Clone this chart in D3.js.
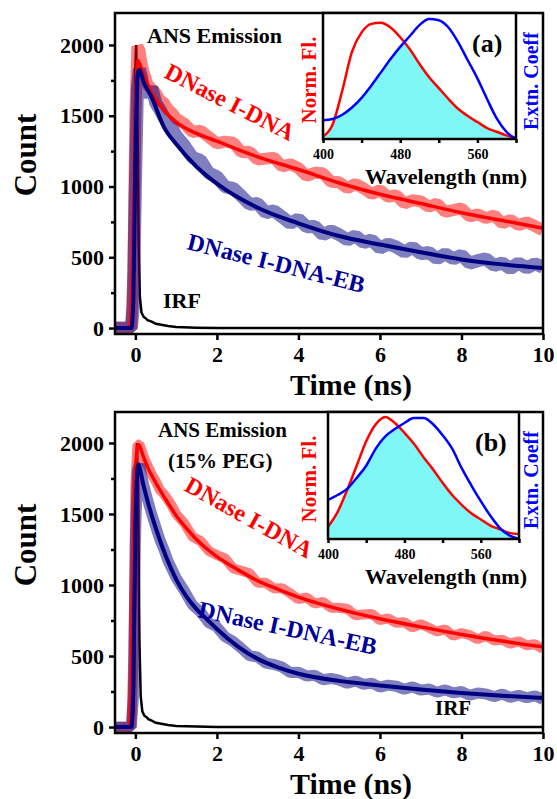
<!DOCTYPE html>
<meta charset="utf-8">
<style>
  body { margin: 0; background: #fff; }
  text { font-family: 'Liberation Serif', 'Times New Roman', Times, serif; font-weight: bold; }
</style>
<script src="https://d3js.org/d3.v7.min.js"></script>
<div id="my_dataviz"></div>
<script>

// ---- data ----
// time grid of the raw decays (ns)
var tEarly = [-0.5, -0.2, -0.1, -0.05, 0, 0.05, 0.1, 0.15, 0.2, 0.3, 0.4, 0.5, 0.6, 0.7, 0.8, 0.9, 1.0];
var tTail = d3.range(6, 51).map(function (i) { return i / 5; });   // 1.2 .. 10
var rawTime = tEarly.concat(tTail);

// panel (a) raw counts
var rawRedA = [0, 0, 0, 400, 1500, 1990, 1960, 1870, 1810, 1720, 1690, 1660, 1610, 1590, 1545, 1520, 1480,
  1445, 1385, 1395, 1350, 1305, 1317, 1310, 1243, 1246, 1190,
  1197, 1204, 1141, 1158, 1130, 1076, 1097, 1093, 1034, 1030,
  989, 1018, 987, 946, 975, 927, 939, 881, 903, 895,
  857, 879, 821, 833, 845, 789, 803, 777, 796, 740,
  764, 728, 747, 721, 690];
var rawBlueA = [0, 0, 0, 150, 1000, 1700, 1830, 1770, 1700, 1640, 1700, 1590, 1545, 1490, 1450, 1410, 1360,
  1290, 1205, 1185, 1095, 1070, 998, 987, 933, 875, 880,
  816, 828, 785, 740, 770, 716, 718, 660, 687, 660,
  623, 651, 604, 622, 565, 594, 573, 537, 571, 525,
  535, 490, 525, 490, 515, 458, 476, 489, 442, 460,
  420, 460, 425, 455, 430];

// panel (b) raw counts
var rawRedB = [0, 0, 0, 500, 1700, 1990, 1990, 1950, 1905, 1840, 1780, 1730, 1670, 1640, 1600, 1555, 1500,
  1435, 1340, 1310, 1240, 1210, 1188, 1117, 1100, 1082, 1015,
  1015, 976, 978, 941, 900, 912, 869, 881, 840, 840,
  831, 787, 793, 795, 752, 765, 734, 737, 701, 725,
  699, 673, 688, 642, 662, 647, 618, 643, 609, 615,
  587, 604, 576, 583, 550];
var rawBlueB = [0, 0, 0, 200, 1300, 1800, 1850, 1780, 1710, 1600, 1500, 1410, 1320, 1250, 1170, 1110, 1050,
  960, 860, 810, 735, 705, 635, 602, 555, 503, 492,
  450, 440, 422, 384, 385, 359, 365, 333, 342, 330,
  308, 324, 300, 309, 281, 295, 287, 266, 283, 260,
  268, 245, 262, 240, 250, 224, 240, 233, 214, 232,
  209, 224, 206, 220, 195];

// fitted decays
var tFitA = [-0.5, -0.2, -0.15, -0.1, -0.05, 0, 0.06, 0.1, 0.2, 0.4, 0.7, 1, 1.5, 2, 3, 4, 5, 6, 7, 8, 9, 10];
var fitRedA = [0, 0, 0, 150, 700, 1500, 1890, 1870, 1790, 1660, 1540, 1455, 1375, 1320, 1210, 1120, 1025, 945, 880, 815, 760, 705];
var fitBlueA = [0, 0, 0, 0, 200, 1200, 1800, 1825, 1740, 1630, 1420, 1300, 1140, 1020, 850, 740, 650, 590, 535, 485, 450, 425];

var tFitB = [-0.5, -0.2, -0.15, -0.1, -0.05, 0, 0.07, 0.1, 0.2, 0.3, 0.5, 0.75, 1, 1.25, 1.5, 1.75, 2, 2.5, 3, 3.5, 4, 5, 6, 7, 8, 9, 10];
var fitRedB = [0, 0, 0, 300, 1200, 1800, 1990, 1980, 1900, 1830, 1720, 1600, 1490, 1400, 1320, 1255, 1200, 1110, 1030, 970, 915, 830, 762, 705, 652, 605, 565];
var fitBlueB = [0, 0, 0, 0, 300, 1400, 1850, 1830, 1700, 1590, 1400, 1200, 1040, 920, 830, 760, 690, 570, 480, 420, 375, 325, 293, 265, 240, 220, 205];

// instrument response
var irfTimeA = [-0.5, -0.1, -0.06, -0.03, 0, 0.02, 0.05, 0.08, 0.11, 0.15, 0.2, 0.25, 0.3, 0.4, 0.5, 0.6, 0.8, 1.0, 1.5, 2.0, 10];
var irfTimeB = [-0.5, -0.08, -0.04, -0.01, 0.02, 0.04, 0.07, 0.1, 0.13, 0.17, 0.22, 0.27, 0.32, 0.4, 0.5, 0.6, 0.8, 1.0, 1.5, 2.0, 10];
var irfCounts = [0, 0, 150, 900, 1850, 2000, 1500, 600, 220, 110, 80, 70, 55, 45, 30, 25, 15, 8, 3, 0, 0];

// insets: spectra
var wavelength = [400, 410, 420, 430, 440, 450, 460, 470, 480, 490, 500, 510, 520, 530, 540, 550, 560, 570, 580, 590, 600];
var emisA = [0.02, 0.12, 0.40, 0.72, 0.88, 0.95, 0.96, 0.92, 0.84, 0.74, 0.62, 0.51, 0.42, 0.33, 0.25, 0.19, 0.14, 0.09, 0.06, 0.03, 0.01];
var absA = [0.155, 0.165, 0.20, 0.26, 0.34, 0.44, 0.55, 0.66, 0.76, 0.85, 0.94, 0.99, 0.98, 0.92, 0.80, 0.65, 0.50, 0.33, 0.17, 0.06, 0.0];
var emisB = [0.10, 0.22, 0.40, 0.60, 0.80, 0.94, 1.00, 0.95, 0.87, 0.78, 0.67, 0.57, 0.46, 0.36, 0.28, 0.21, 0.16, 0.11, 0.08, 0.05, 0.04];
var absB = [0.32, 0.36, 0.41, 0.50, 0.60, 0.74, 0.84, 0.90, 0.95, 0.99, 0.99, 0.94, 0.85, 0.74, 0.58, 0.44, 0.31, 0.19, 0.09, 0.03, 0.0];

var timeTicks = [0, 2, 4, 6, 8, 10];
var countTicks = [0, 500, 1000, 1500, 2000];
var countMinor = [250, 750, 1250, 1750];
var wlTicks = [400, 480, 560];
var wlMinor = [440, 520, 600];

var svg = d3.select("#my_dataviz")
  .append("svg")
    .attr("width", 557)
    .attr("height", 799);

function zip(a, b) { return a.map(function (v, i) { return [v, b[i]]; }); }

function drawPanel(p) {
  var x = d3.scaleLinear().domain([-0.5, 10]).range([115, 543]);
  var y = d3.scaleLinear().domain(p.yDom).range([p.bottom, p.top]);

  svg.append("clipPath").attr("id", "clip" + p.id)
    .append("rect")
      .attr("x", 115).attr("y", p.top)
      .attr("width", 428).attr("height", p.bottom - p.top);

  var line = d3.line().x(function (d) { return x(d[0]); }).y(function (d) { return y(d[1]); });
  var smooth = d3.line().curve(d3.curveMonotoneX)
    .x(function (d) { return x(d[0]); }).y(function (d) { return y(d[1]); });

  var g = svg.append("g").attr("clip-path", "url(#clip" + p.id + ")");

  g.append("path").datum(zip(p.irfT, irfCounts))
    .attr("d", line).attr("fill", "none").attr("stroke", "black").attr("stroke-width", 2.5);
  g.append("path").datum(zip(rawTime, p.rawRed))
    .attr("d", line).attr("fill", "none").attr("stroke", "#ff0000").attr("stroke-opacity", 0.5)
    .attr("stroke-width", p.rawW).attr("stroke-linejoin", "bevel");
  g.append("path").datum(zip(rawTime, p.rawBlue))
    .attr("d", line).attr("fill", "none").attr("stroke", "#000080").attr("stroke-opacity", 0.5)
    .attr("stroke-width", p.rawW + 1).attr("stroke-linejoin", "bevel");
  g.append("path").datum(zip(p.fitT, p.fitRed))
    .attr("d", smooth).attr("fill", "none").attr("stroke", "#ff0000").attr("stroke-width", 3.5);
  g.append("path").datum(zip(p.fitT, p.fitBlue))
    .attr("d", smooth).attr("fill", "none").attr("stroke", "#000080").attr("stroke-width", 4);

  // frame
  svg.append("rect")
    .attr("x", 115).attr("y", p.top)
    .attr("width", 428).attr("height", p.bottom - p.top)
    .attr("fill", "none").attr("stroke", "black").attr("stroke-width", 2.5);

  // axes
  var xa = svg.append("g").attr("transform", "translate(0," + p.bottom + ")")
    .call(d3.axisBottom(x).tickValues(timeTicks).tickSize(6).tickPadding(6).tickFormat(d3.format("d")));
  var ya = svg.append("g").attr("transform", "translate(115,0)")
    .call(d3.axisLeft(y).tickValues(countTicks).tickSize(6).tickPadding(5).tickFormat(d3.format("d")));
  var ym = svg.append("g").attr("transform", "translate(115,0)")
    .call(d3.axisLeft(y).tickValues(countMinor).tickSize(4).tickFormat(""));
  [xa, ya, ym].forEach(function (a) {
    a.select(".domain").remove();
    a.selectAll("line").attr("stroke-width", 2.5);
    a.selectAll("text").style("font-size", "22px").attr("fill", "black");
  });

  svg.append("text")
    .attr("transform", "translate(36," + p.countY + ")rotate(-90)")
    .attr("text-anchor", "middle")
    .style("font-size", "31px")
    .text("Count");
  svg.append("text")
    .attr("x", 351).attr("y", p.bottom + 61)
    .attr("text-anchor", "middle")
    .style("font-size", "30px")
    .text("Time (ns)");

  // annotations
  p.notes.forEach(function (n) {
    svg.append("text")
      .attr("transform", "translate(" + n.x + "," + n.y + ")rotate(" + (n.r || 0) + ")")
      .attr("fill", n.c || "black")
      .style("font-size", n.s + "px")
      .text(n.t);
  });

  drawInset(p);
}

function drawInset(p) {
  var wx = d3.scaleLinear().domain([400, 600]).range([p.ix0, p.ix1]);
  var wy = d3.scaleLinear().domain([0, 1.04]).range([p.iy1, p.top]);

  svg.append("rect")
    .attr("x", p.ix0).attr("y", p.top)
    .attr("width", p.ix1 - p.ix0).attr("height", p.iy1 - p.top)
    .attr("fill", "white");

  var under = d3.area().curve(d3.curveMonotoneX)
    .x(function (d) { return wx(d[0]); }).y0(wy(0)).y1(function (d) { return wy(d[1]); });
  var curve = d3.line().curve(d3.curveMonotoneX)
    .x(function (d) { return wx(d[0]); }).y(function (d) { return wy(d[1]); });

  // overlap region = under emission AND under absorption
  svg.append("clipPath").attr("id", "ov" + p.id)
    .append("path").datum(zip(wavelength, p.abs)).attr("d", under);
  svg.append("path").datum(zip(wavelength, p.emis))
    .attr("d", under).attr("fill", "#7ff7f7")
    .attr("clip-path", "url(#ov" + p.id + ")");

  svg.append("path").datum(zip(wavelength, p.emis))
    .attr("d", curve).attr("fill", "none").attr("stroke", "#ff0000").attr("stroke-width", 2.5);
  svg.append("path").datum(zip(wavelength, p.abs))
    .attr("d", curve).attr("fill", "none").attr("stroke", "#0000ff").attr("stroke-width", 2.5);

  svg.append("rect")
    .attr("x", p.ix0).attr("y", p.top)
    .attr("width", p.ix1 - p.ix0).attr("height", p.iy1 - p.top)
    .attr("fill", "none").attr("stroke", "black").attr("stroke-width", 2.5);

  var wa = svg.append("g").attr("transform", "translate(0," + p.iy1 + ")")
    .call(d3.axisBottom(wx).tickValues(wlTicks).tickSize(4).tickPadding(6).tickFormat(d3.format("d")));
  var wm = svg.append("g").attr("transform", "translate(0," + p.iy1 + ")")
    .call(d3.axisBottom(wx).tickValues(wlMinor).tickSize(4).tickFormat(""));
  [wa, wm].forEach(function (a) {
    a.select(".domain").remove();
    a.selectAll("line").attr("stroke-width", 2.5);
    a.selectAll("text").style("font-size", "14px").attr("fill", "black");
  });

  svg.append("text")
    .attr("x", 446).attr("y", p.iy1 + 45)
    .attr("text-anchor", "middle")
    .style("font-size", "22px")
    .text("Wavelength (nm)");
  svg.append("text")
    .attr("x", p.ix1 - 44).attr("y", p.top + 39)
    .style("font-size", "26px")
    .text(p.tag);
  svg.append("text")
    .attr("transform", "translate(316," + (p.top + 67) + ")rotate(-90)")
    .attr("text-anchor", "middle")
    .attr("fill", "#ff0000")
    .style("font-size", "21px")
    .text("Norm. Fl.");
  svg.append("text")
    .attr("transform", "translate(538," + (p.top + 68) + ")rotate(-90)")
    .attr("text-anchor", "middle")
    .attr("fill", "#0000ff")
    .style("font-size", "20px")
    .text("Extn. Coeff");
}

drawPanel({
  id: "a", top: 13, bottom: 334, yDom: [-42, 2226], countY: 155, rawW: 12,
  rawRed: rawRedA, rawBlue: rawBlueA, fitT: tFitA, fitRed: fitRedA, fitBlue: fitBlueA, irfT: irfTimeA,
  ix0: 323, ix1: 516, iy1: 139, emis: emisA, abs: absA, tag: "(a)",
  notes: [
    {t: "ANS Emission", x: 147, y: 43, s: 22},
    {t: "DNase I-DNA", x: 163, y: 77, r: 27, s: 24, c: "#ff0000"},
    {t: "DNase I-DNA-EB", x: 186, y: 249, r: 14, s: 24, c: "#000099"},
    {t: "IRF", x: 163, y: 308, s: 22}
  ]
});

drawPanel({
  id: "b", top: 412, bottom: 733, yDom: [-42, 2218], countY: 545, rawW: 10,
  rawRed: rawRedB, rawBlue: rawBlueB, fitT: tFitB, fitRed: fitRedB, fitBlue: fitBlueB, irfT: irfTimeB,
  ix0: 328, ix1: 519, iy1: 539, emis: emisB, abs: absB, tag: "(b)",
  notes: [
    {t: "ANS Emission", x: 158, y: 437, s: 21},
    {t: "(15% PEG)", x: 168, y: 468, s: 21},
    {t: "DNase I-DNA", x: 183, y: 490, r: 29, s: 24, c: "#ff0000"},
    {t: "DNase I-DNA-EB", x: 197, y: 617, r: 12, s: 24, c: "#000099"},
    {t: "IRF", x: 435, y: 715, s: 21}
  ]
});

</script>
